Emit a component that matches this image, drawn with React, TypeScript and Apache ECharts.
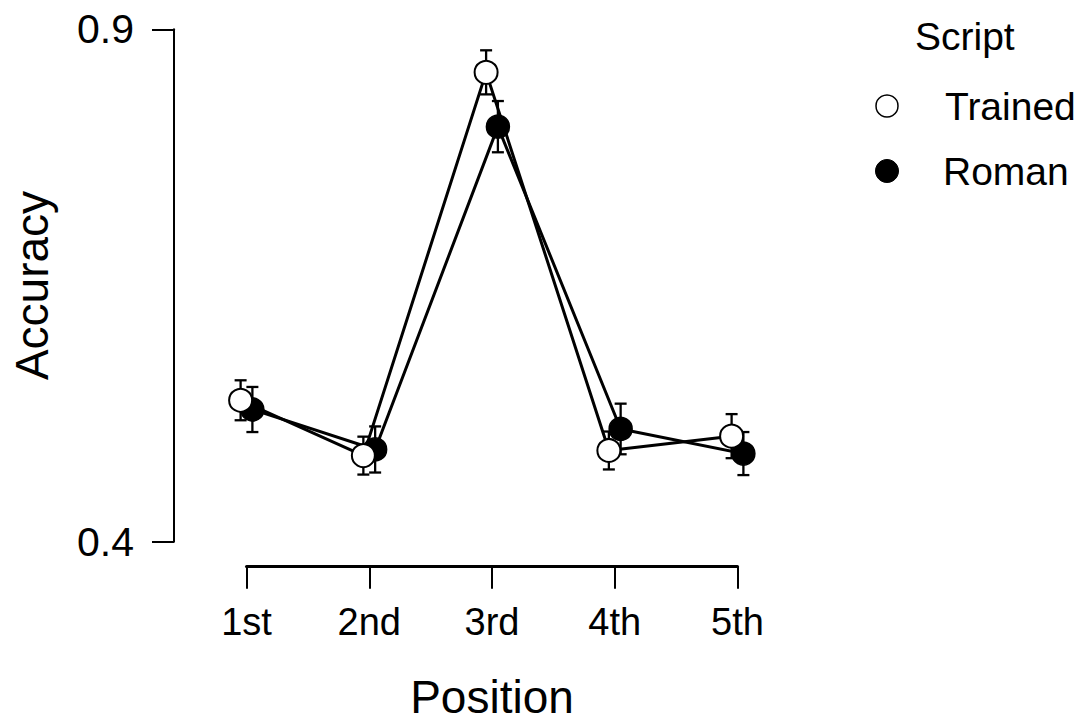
import React, { useEffect, useRef } from "react";
import * as echarts from "echarts";

const categories = ["1st", "2nd", "3rd", "4th", "5th"];
const trainedMean = [0.538, 0.484, 0.858, 0.489, 0.503];
const trainedErr = [0.0195, 0.0185, 0.0215, 0.0185, 0.0215];
const romanMean = [0.529, 0.49, 0.805, 0.51, 0.486];
const romanErr = [0.022, 0.0225, 0.025, 0.0247, 0.021];
const yTicks = [0.4, 0.9];
const seriesNames = ["Trained", "Roman"];
const legendTitle = "Script";

const DODGE = 0.048;
const FONT = "Liberation Sans, Arial, sans-serif";

function points(means: number[], shift: number) {
  return means.map((m, i) => [i + 1 + shift, m]);
}
function bars(means: number[], errs: number[], shift: number) {
  return means.map((m, i) => [i + 1 + shift, m - errs[i], m + errs[i]]);
}

const errRender = (params: any, api: any) => {
  const x = api.value(0);
  const lo = api.coord([x, api.value(1)]);
  const hi = api.coord([x, api.value(2)]);
  const w = 6;
  const st = { stroke: "#000", lineWidth: 2.3 };
  return {
    type: "group",
    children: [
      { type: "line", shape: { x1: lo[0], y1: lo[1], x2: hi[0], y2: hi[1] }, style: st },
      { type: "line", shape: { x1: lo[0] - w, y1: lo[1], x2: lo[0] + w, y2: lo[1] }, style: st },
      { type: "line", shape: { x1: hi[0] - w, y1: hi[1], x2: hi[0] + w, y2: hi[1] }, style: st },
    ],
  };
};

export default function App() {
  const ref = useRef<HTMLDivElement>(null);
  useEffect(() => {
    if (!ref.current) return;
    const chart = echarts.init(ref.current, undefined, { renderer: "svg" });
    chart.setOption({
      animation: false,
      backgroundColor: "#fff",
      textStyle: { fontFamily: FONT },
      grid: { left: 246.5, right: 353.5, top: 29.3, bottom: 184.3, containLabel: false },
      xAxis: {
        type: "value",
        min: 1,
        max: 5,
        interval: 1,
        offset: 25,
        splitLine: { show: false },
        axisLine: { show: true, lineStyle: { color: "#000", width: 3 } },
        axisTick: { show: true, length: 22, lineStyle: { color: "#000", width: 2 } },
        axisLabel: {
          margin: 36,
          fontSize: 38,
          color: "#000",
          fontFamily: FONT,
          formatter: (v: number) => categories[Math.round(v) - 1] ?? "",
        },
        name: "Position",
        nameLocation: "middle",
        nameGap: 107,
        nameTextStyle: { fontSize: 46, color: "#000", fontFamily: FONT },
      },
      yAxis: {
        type: "value",
        min: 0.4,
        max: 0.9,
        offset: 72.5,
        splitLine: { show: false },
        axisLine: { show: true, lineStyle: { color: "#000", width: 2 } },
        axisTick: { show: true, length: 22, customValues: yTicks, lineStyle: { color: "#000", width: 2 } },
        axisLabel: {
          margin: 40,
          fontSize: 41,
          color: "#000",
          fontFamily: FONT,
          customValues: yTicks,
          formatter: (v: number) => v.toFixed(1),
        },
        name: "Accuracy",
        nameLocation: "middle",
        nameGap: 119,
        nameTextStyle: { fontSize: 46, color: "#000", fontFamily: FONT },
      },
      series: [
        {
          type: "custom",
          name: "Roman bars",
          renderItem: errRender,
          data: bars(romanMean, romanErr, DODGE),
          encode: { x: 0, y: [1, 2] },
          clip: false,
          z: 1,
        },
        {
          type: "custom",
          name: "Trained bars",
          renderItem: errRender,
          data: bars(trainedMean, trainedErr, -DODGE),
          encode: { x: 0, y: [1, 2] },
          clip: false,
          z: 1,
        },
        {
          type: "line",
          name: seriesNames[1],
          data: points(romanMean, DODGE),
          clip: false,
          symbol: "circle",
          symbolSize: 23,
          lineStyle: { color: "#000", width: 3 },
          itemStyle: { color: "#000", borderColor: "#000", borderWidth: 1.5 },
          z: 2,
        },
        {
          type: "line",
          name: seriesNames[0],
          data: points(trainedMean, -DODGE),
          clip: false,
          symbol: "circle",
          symbolSize: 23,
          lineStyle: { color: "#000", width: 3 },
          itemStyle: { color: "#fff", borderColor: "#000", borderWidth: 2 },
          z: 3,
        },
      ],
      graphic: [
        {
          type: "text",
          x: 915,
          y: 36,
          style: { text: legendTitle, fill: "#000", font: `39px ${FONT}`, verticalAlign: "middle", align: "left" },
        },
        {
          type: "circle",
          shape: { cx: 887, cy: 106, r: 11 },
          style: { fill: "#fff", stroke: "#000", lineWidth: 1.5 },
        },
        {
          type: "text",
          x: 945,
          y: 106,
          style: { text: seriesNames[0], fill: "#000", font: `39px ${FONT}`, verticalAlign: "middle", align: "left" },
        },
        {
          type: "circle",
          shape: { cx: 887, cy: 171, r: 11.5 },
          style: { fill: "#000", stroke: "#000", lineWidth: 1 },
        },
        {
          type: "text",
          x: 943,
          y: 171,
          style: { text: seriesNames[1], fill: "#000", font: `39px ${FONT}`, verticalAlign: "middle", align: "left" },
        },
      ],
    });
    return () => chart.dispose();
  }, []);
  return (
    <div
      ref={ref}
      style={{ position: "fixed", left: 0, top: 0, width: 1091, height: 726, background: "#fff" }}
    />
  );
}
